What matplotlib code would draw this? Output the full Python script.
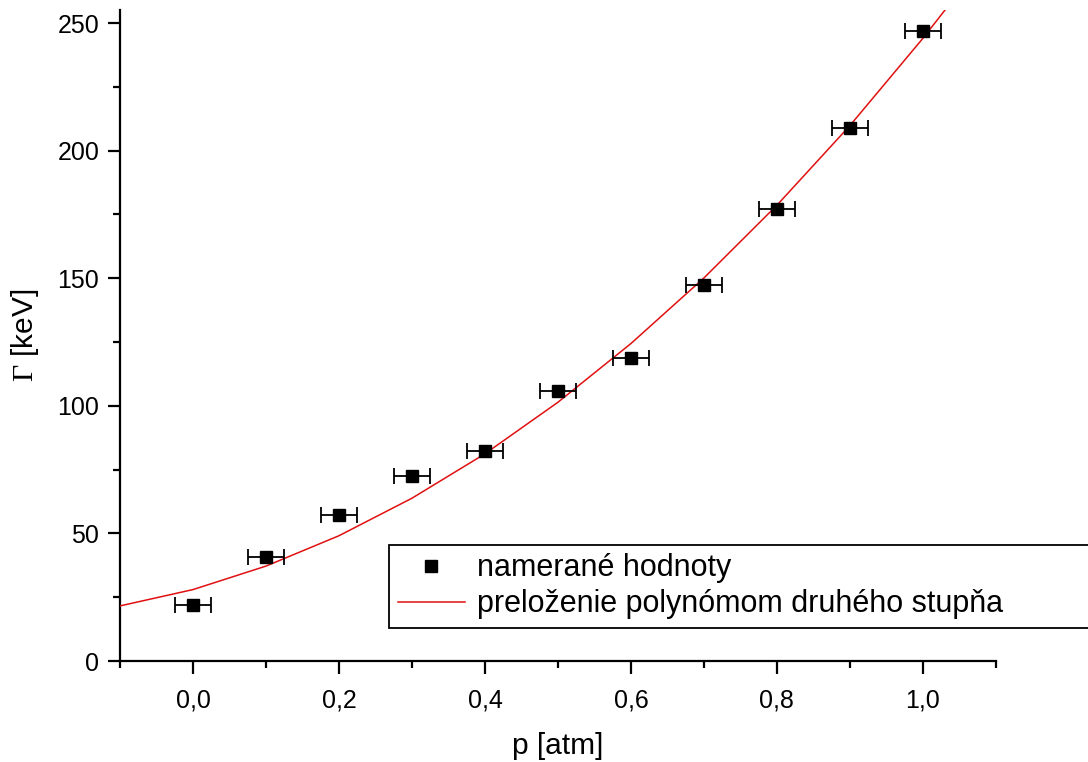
import numpy as np
import matplotlib
matplotlib.use("Agg")
import matplotlib.pyplot as plt
from matplotlib.ticker import MultipleLocator, FuncFormatter
from matplotlib.lines import Line2D

plt.rcParams['font.family'] = ['Liberation Sans', 'DejaVu Sans']
plt.rcParams['mathtext.fontset'] = 'custom'
plt.rcParams['mathtext.rm'] = 'Liberation Serif'
plt.rcParams['mathtext.it'] = 'Liberation Serif:italic'

# measured values
p = [0.0, 0.1, 0.2, 0.3, 0.4, 0.5, 0.6, 0.7, 0.8, 0.9, 1.0]
gamma = [22.0, 40.8, 57.2, 72.5, 82.3, 105.8, 118.7, 147.3, 177.1, 208.9, 246.9]
p_err = [0.025] * len(p)

# fitted curve
fit_p = [-0.1, 0.0, 0.1, 0.2, 0.3, 0.4, 0.5, 0.6, 0.7, 0.8, 0.9, 1.0, 1.1]
fit_gamma = [21.6, 28.0, 37.2, 49.1, 63.8, 81.2, 101.4, 124.4, 150.1, 178.6, 209.8, 244.0, 280.6]

fig = plt.figure(figsize=(10.88, 7.62), dpi=100)
ax = fig.add_axes([0.1103, 0.1325, 0.805, 0.854])

ax.plot(fit_p, fit_gamma, color='#e01010', lw=1.1, zorder=3)
ax.errorbar(p, gamma, xerr=p_err, fmt='s', color='black', ms=9,
            elinewidth=1.3, capsize=5.5, capthick=1.3, zorder=4)

ax.set_xlim(-0.1, 1.1)
ax.set_ylim(0, 255)

for s in ['top', 'right']:
    ax.spines[s].set_visible(False)
for s in ['left', 'bottom']:
    ax.spines[s].set_linewidth(1.6)

ax.xaxis.set_major_locator(MultipleLocator(0.2))
ax.xaxis.set_minor_locator(MultipleLocator(0.1))
ax.yaxis.set_major_locator(MultipleLocator(50))
ax.yaxis.set_minor_locator(MultipleLocator(25))
ax.xaxis.set_major_formatter(FuncFormatter(lambda v, _: f"{v:.1f}".replace('.', ',').replace('-0,0', '0,0')))
ax.yaxis.set_major_formatter(FuncFormatter(lambda v, _: f"{v:.0f}"))
ax.tick_params(axis='x', which='major', pad=11)
ax.tick_params(axis='y', which='major', pad=6)
ax.tick_params(which='major', direction='out', length=9, width=1.6, labelsize=18)
ax.tick_params(which='minor', direction='out', length=5, width=1.6)

ax.set_xlabel('p [atm]', fontsize=21.5, labelpad=14)
ax.set_ylabel(r'$\Gamma$ [keV]', fontsize=21.5, labelpad=12)

handles = [Line2D([], [], ls='none', marker='s', color='black', ms=9),
           Line2D([], [], color='#e01010', lw=1.1)]
labels = ['namerané hodnoty', 'preloženie polynómom druhého stupňa']
leg = fig.legend(handles, labels, loc='upper left', mode='expand',
                 bbox_to_anchor=(0.3575, 0.2850, 0.66, 0), bbox_transform=fig.transFigure,
                 fontsize=22, frameon=True, fancybox=False, framealpha=1,
                 edgecolor='black', handlelength=2.2, handletextpad=0.4,
                 borderpad=0.28, labelspacing=0.2, borderaxespad=0)
leg.get_frame().set_linewidth(1.3)

fig.savefig('out.png', dpi=100)
